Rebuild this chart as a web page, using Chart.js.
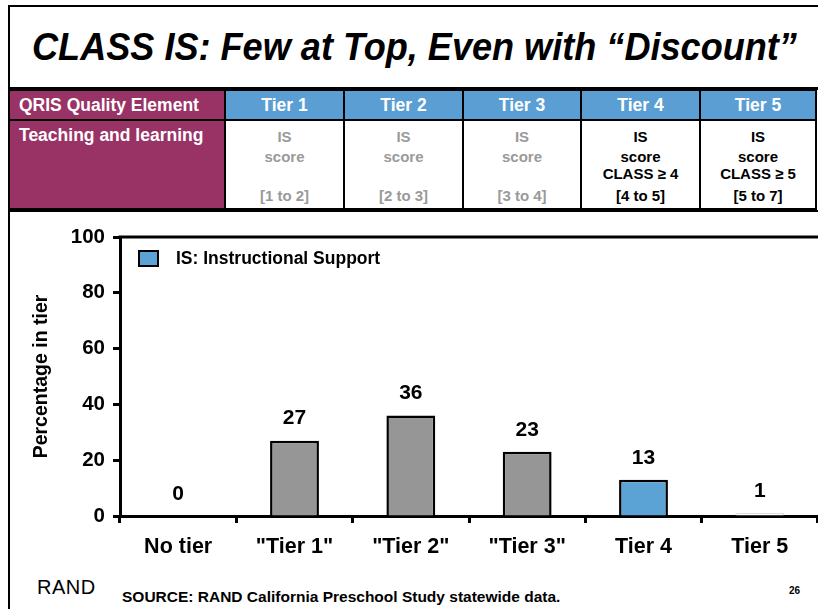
<!DOCTYPE html>
<html>
<head>
<meta charset="utf-8">
<script src="https://cdn.jsdelivr.net/npm/chart.js@4.4.1/dist/chart.umd.min.js"></script>
<style>
  html,body{margin:0;padding:0;background:#fff;}
  body{width:818px;height:609px;position:relative;overflow:hidden;font-family:"Liberation Sans",Arial,sans-serif;}
  .frameTop{position:absolute;left:8px;top:5px;width:820px;height:2px;background:#000;}
  .frameLeft{position:absolute;left:8px;top:5px;width:2px;height:620px;background:#000;}
  #title{position:absolute;left:10px;top:24px;width:808px;text-align:center;font-weight:bold;font-style:italic;font-size:38px;line-height:46px;color:#000;white-space:nowrap;transform:scaleX(0.95);transform-origin:413px 0;}
  .sep{position:absolute;left:8px;width:820px;background:#000;}
  table{position:absolute;left:8px;top:89px;border-collapse:collapse;table-layout:fixed;}
  td{border:2px solid #000;padding:0;font-weight:bold;}
  .hdr td{height:28px;font-size:17.5px;color:#fff;text-align:center;vertical-align:middle;background:#5B9ED3;}
  .hdr td.first,.body td.first{background:#993366;text-align:left;padding-left:9px;color:#fff;font-size:17.5px;}
  .body td{height:83px;vertical-align:top;text-align:center;font-size:15px;background:#fff;}
  .body td.first{vertical-align:top;padding-top:4px;}
  .cell{position:relative;height:83px;}
  .cell span{position:absolute;left:0;right:0;}
  .grey{color:#9a9a9a;}
  .blk{color:#000;}
  #chartBox{position:absolute;left:0;top:215px;width:818px;height:355px;}
  #rand{position:absolute;left:37px;top:576px;font-size:20px;letter-spacing:0.5px;color:#000;font-family:"Liberation Sans",Arial,sans-serif;}
  #source{position:absolute;left:122px;top:588px;font-size:15.5px;font-weight:bold;color:#000;}
  #page{position:absolute;left:789px;top:585px;font-size:10px;font-weight:bold;color:#000;}
</style>
</head>
<body>
<div class="frameTop"></div>
<div class="frameLeft"></div>
<div id="title">CLASS IS: Few at Top, Even with “Discount”</div>
<div class="sep" style="top:87px;height:3px;"></div>
<table>
  <colgroup>
    <col style="width:216px"><col style="width:119px"><col style="width:119px"><col style="width:118px"><col style="width:119px"><col style="width:116px">
  </colgroup>
  <tr class="hdr">
    <td class="first">QRIS Quality Element</td>
    <td>Tier 1</td><td>Tier 2</td><td>Tier 3</td><td>Tier 4</td><td>Tier 5</td>
  </tr>
  <tr class="body">
    <td class="first">Teaching and learning</td>
    <td><div class="cell grey"><span style="top:7px">IS</span><span style="top:27px">score</span><span style="top:66px">[1 to 2]</span></div></td>
    <td><div class="cell grey"><span style="top:7px">IS</span><span style="top:27px">score</span><span style="top:66px">[2 to 3]</span></div></td>
    <td><div class="cell grey"><span style="top:7px">IS</span><span style="top:27px">score</span><span style="top:66px">[3 to 4]</span></div></td>
    <td><div class="cell blk"><span style="top:7px">IS</span><span style="top:27px">score</span><span style="top:44px">CLASS ≥ 4</span><span style="top:66px">[4 to 5]</span></div></td>
    <td><div class="cell blk"><span style="top:7px">IS</span><span style="top:27px">score</span><span style="top:44px">CLASS ≥ 5</span><span style="top:66px">[5 to 7]</span></div></td>
  </tr>
</table>
<div class="sep" style="top:210px;height:2px;"></div>
<div id="chartBox"><canvas id="c"></canvas></div>
<div id="rand">RAND</div>
<div id="source">SOURCE: RAND California Preschool Study statewide data.</div>
<div id="page">26</div>
<script>
const categories = ['No tier', '"Tier 1"', '"Tier 2"', '"Tier 3"', 'Tier 4', 'Tier 5'];
const values = [0, 27, 36, 23, 13, 1];
const barColors = ['#969696', '#969696', '#969696', '#969696', '#5BA3D5', '#FFFFFF'];
const barBorders = ['#000000', '#000000', '#000000', '#000000', '#000000', '#C8C8C8'];
const yTicks = [0, 20, 40, 60, 80, 100];
const legendLabel = 'IS: Instructional Support';
const legendColor = '#5BA3D5';
const yTitle = 'Percentage in tier';

const FONT = '"Liberation Sans", Arial, sans-serif';

const overlay = {
  id: 'overlay',
  afterDatasetsDraw(chart) {
    const ctx = chart.ctx;
    const area = chart.chartArea;
    ctx.save();
    ctx.strokeStyle = '#000';
    ctx.lineWidth = 3;
    ctx.beginPath();
    ctx.moveTo(area.left - 1.5, area.top);
    ctx.lineTo(chart.width + 5, area.top);
    ctx.stroke();
    const meta = chart.getDatasetMeta(0);
    ctx.fillStyle = '#000';
    ctx.font = 'bold 21px ' + FONT;
    ctx.textAlign = 'center';
    ctx.textBaseline = 'middle';
    meta.data.forEach((el, i) => {
      ctx.fillText(String(values[i]), el.x, el.y - 22);
    });
    const lx = area.left + 19, ly = area.top + 14;
    ctx.fillStyle = legendColor;
    ctx.fillRect(lx, ly, 19, 15);
    ctx.lineWidth = 2;
    ctx.strokeStyle = '#000';
    ctx.strokeRect(lx, ly, 19, 15);
    ctx.fillStyle = '#000';
    ctx.font = 'bold 17.5px ' + FONT;
    ctx.textAlign = 'left';
    ctx.fillText(legendLabel, lx + 37, ly + 8);
    ctx.restore();
  }
};

new Chart(document.getElementById('c'), {
  type: 'bar',
  data: {
    labels: categories,
    datasets: [{
      label: legendLabel,
      data: values,
      backgroundColor: barColors,
      borderColor: barBorders,
      borderWidth: values.map((v, i) => i === 5 ? 1 : 2.5),
      barPercentage: 0.42,
      categoryPercentage: 1.0
    }]
  },
  options: {
    responsive: true,
    maintainAspectRatio: false,
    animation: false,
    layout: { padding: { top: 22, left: 0, right: 0, bottom: 0 } },
    plugins: { legend: { display: false }, tooltip: { enabled: false } },
    scales: {
      x: {
        grid: { display: true, drawOnChartArea: false, tickLength: 7, tickWidth: 3, tickColor: '#000', offset: true },
        border: { display: true, color: '#000', width: 3 },
        ticks: { color: '#000', font: { family: FONT, size: 21.5, weight: 'bold' }, padding: 11, maxRotation: 0 },
        afterFit(s) { s.height = 54; }
      },
      y: {
        min: 0, max: 100,
        afterBuildTicks(s) { s.ticks = yTicks.map(v => ({ value: v })); },
        grid: { display: true, drawOnChartArea: false, tickLength: 7, tickWidth: 3, tickColor: '#000' },
        border: { display: true, color: '#000', width: 3 },
        ticks: { color: '#000', font: { family: FONT, size: 20.5, weight: 'bold' }, padding: 8 },
        title: { display: true, text: yTitle, color: '#000', font: { family: FONT, size: 19.5, weight: 'bold' }, padding: { top: 30, bottom: 0 } },
        afterFit(s) { s.width = 120; }
      }
    }
  },
  plugins: [overlay]
});
</script>
</body>
</html>
